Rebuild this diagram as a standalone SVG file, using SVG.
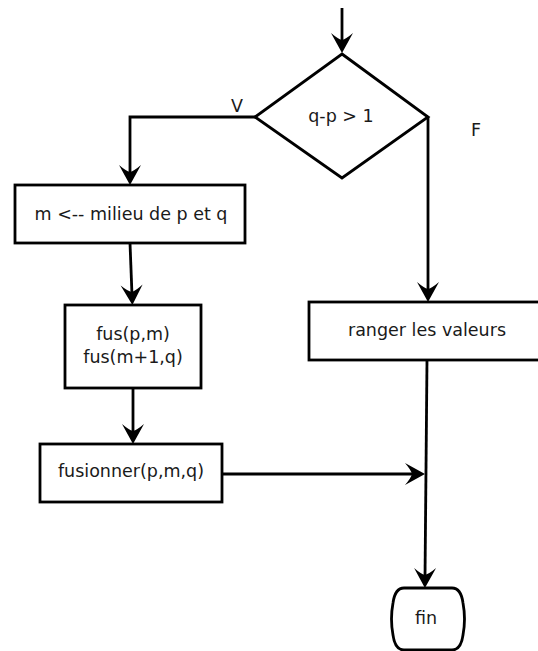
<svg xmlns="http://www.w3.org/2000/svg" width="538" height="651" viewBox="0 0 538 651">
<defs>
<style>
.shape{fill:#fff;stroke:#000;stroke-width:2.8}
.conn{fill:none;stroke:#000;stroke-width:2.8}
text{font-family:"DejaVu Sans","Liberation Sans",sans-serif;font-size:17.5px;fill:#1a1a1a;text-anchor:middle}
</style>
<marker id="arr" markerUnits="userSpaceOnUse" markerWidth="30" markerHeight="30" refX="0" refY="0" orient="auto" overflow="visible" viewBox="-15 -15 30 30">
<path d="M10,0 L-10,-11 Q-4,-4 -3,0 Q-4,4 -10,11 Z" fill="#000"/>
</marker>
</defs>
<rect width="538" height="651" fill="#fff"/>
<g id="connectors">
<path class="conn" d="M342,8 V43" marker-end="url(#arr)"/>
<path class="conn" d="M256,117 H130 V175" marker-end="url(#arr)"/>
<path class="conn" d="M130,243 L132,295" marker-end="url(#arr)"/>
<path class="conn" d="M133,388 V434" marker-end="url(#arr)"/>
<path class="conn" d="M222,474 H415" marker-end="url(#arr)"/>
<path class="conn" d="M428,117 V292" marker-end="url(#arr)"/>
<path class="conn" d="M427,360 L425,578" marker-end="url(#arr)"/>
</g>
<g id="decision">
<polygon class="shape" points="342,54 428,117 342,178 255,117"/>
<text x="341" y="122">q-p &gt; 1</text>
</g>
<g id="label-v"><text x="237" y="112">V</text></g>
<g id="label-f"><text x="476" y="136">F</text></g>
<g id="milieu">
<rect class="shape" x="15" y="185" width="230" height="58"/>
<text x="131" y="220">m &lt;-- milieu de p et q</text>
</g>
<g id="fus">
<rect class="shape" x="65" y="305" width="136" height="83"/>
<text x="133" y="340">fus(p,m)</text>
<text x="133" y="363">fus(m+1,q)</text>
</g>
<g id="fusionner">
<rect class="shape" x="40" y="444" width="182" height="58"/>
<text x="131" y="477">fusionner(p,m,q)</text>
</g>
<g id="ranger">
<rect class="shape" x="309" y="302" width="240" height="58"/>
<text x="427" y="336">ranger les valeurs</text>
</g>
<g id="fin">
<path class="shape" d="M404,588 H452 Q461,588 463,603 Q466,619 463,635 Q461,650 452,650 H404 Q395,650 393,635 Q390,619 393,603 Q395,588 404,588 Z"/>
<text x="426" y="624">fin</text>
</g>
</svg>
